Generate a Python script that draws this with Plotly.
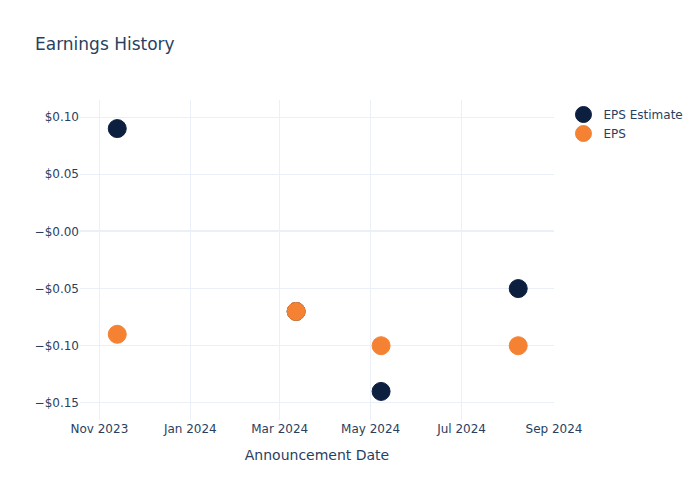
import plotly.graph_objects as go

dates = ["2023-11-13", "2024-03-12", "2024-05-08", "2024-08-08"]
eps_estimate = [0.09, -0.07, -0.14, -0.05]
eps_actual = [-0.09, -0.07, -0.10, -0.10]
y_tick_vals = [-0.15, -0.10, -0.05, 0.0, 0.05, 0.10]
y_tick_text = ["−$0.15", "−$0.10", "−$0.05", "−$0.00", "$0.05", "$0.10"]

fig = go.Figure()
fig.add_trace(go.Scatter(x=dates, y=eps_estimate, mode="markers", name="EPS Estimate",
                         marker=dict(color="#0c1f3f", size=18, line=dict(width=1, color="#0c1f3f"))))
fig.add_trace(go.Scatter(x=dates, y=eps_actual, mode="markers", name="EPS",
                         marker=dict(color="#f58233", size=18, line=dict(width=1, color="#f58233"))))

fig.update_layout(
    template="plotly_white",
    width=700, height=500,
    font=dict(family="DejaVu Sans, Verdana, sans-serif"),
    title=dict(text="Earnings History"),
    xaxis=dict(title=dict(text="Announcement Date"), dtick="M2", tickformat="%b %Y",
               range=["2023-10-19", "2024-09-01"]),
    yaxis=dict(tickvals=y_tick_vals, ticktext=y_tick_text, range=[-0.165, 0.115]),
)
fig.write_html("out.html")
